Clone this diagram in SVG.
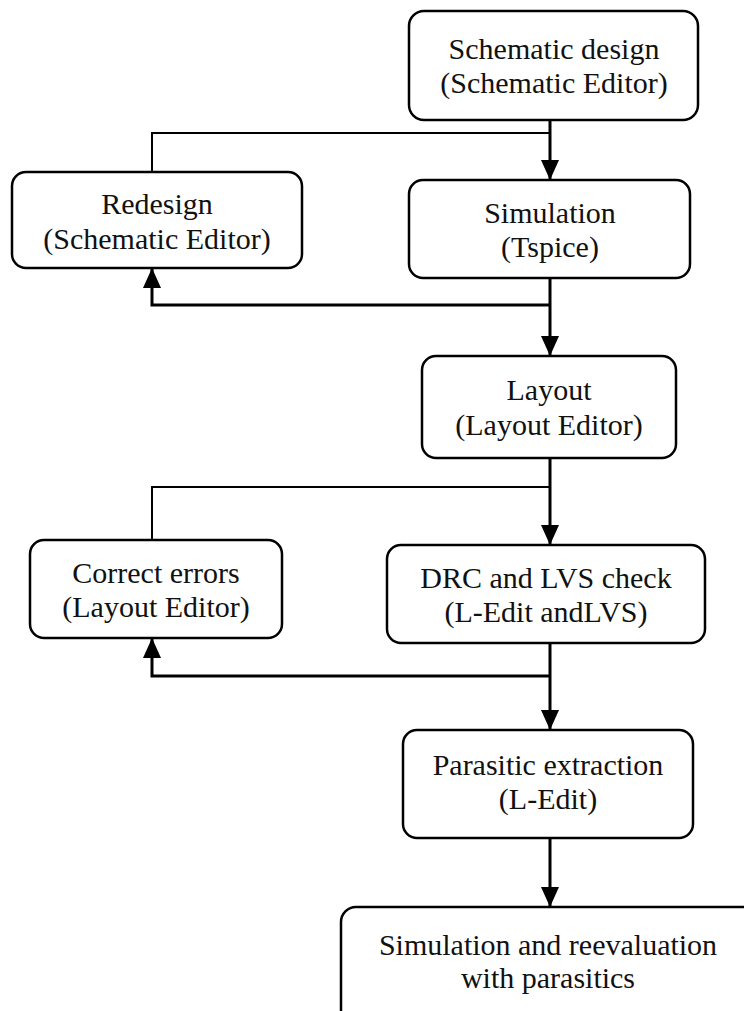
<svg xmlns="http://www.w3.org/2000/svg" width="744" height="1011" viewBox="0 0 744 1011">
<style>
.box{fill:#fff;stroke:#000;stroke-width:2.5}
.t{font-family:"Liberation Serif","Times New Roman",serif;font-size:30px;fill:#111;text-anchor:middle}
.main{fill:none;stroke:#000;stroke-width:3}
.thin{fill:none;stroke:#000;stroke-width:2}
</style>
<defs>
<marker id="ah" viewBox="0 0 20 18" refX="20" refY="9" markerWidth="20" markerHeight="18" markerUnits="userSpaceOnUse" orient="auto">
<path d="M0,0 L20,9 L0,18 Z" fill="#000"/>
</marker>
</defs>
<rect width="744" height="1011" fill="#fff"/>
<g id="connectors">
<path class="main" d="M550,120 V180" marker-end="url(#ah)"/>
<path class="thin" d="M550,133 H152 V172"/>
<path class="main" d="M550,278 V356" marker-end="url(#ah)"/>
<path class="main" d="M550,305 H152 V268" marker-end="url(#ah)"/>
<path class="main" d="M550,458 V545" marker-end="url(#ah)"/>
<path class="thin" d="M550,487 H152 V540"/>
<path class="main" d="M550,643 V730" marker-end="url(#ah)"/>
<path class="main" d="M550,676 H152 V638" marker-end="url(#ah)"/>
<path class="main" d="M550,838 V907" marker-end="url(#ah)"/>
</g>
<g id="n1"><rect class="box" x="409" y="11" width="289" height="109" rx="15"/>
<text class="t" x="554" y="59">Schematic design</text><text class="t" x="554" y="93">(Schematic Editor)</text></g>
<g id="n2"><rect class="box" x="12" y="172" width="290" height="96" rx="14"/>
<text class="t" x="157" y="214">Redesign</text><text class="t" x="157" y="249">(Schematic Editor)</text></g>
<g id="n3"><rect class="box" x="409" y="180" width="281" height="98" rx="14"/>
<text class="t" x="550" y="223">Simulation</text><text class="t" x="550" y="257">(Tspice)</text></g>
<g id="n4"><rect class="box" x="422" y="356" width="254" height="102" rx="14"/>
<text class="t" x="549" y="400">Layout</text><text class="t" x="549" y="435">(Layout Editor)</text></g>
<g id="n5"><rect class="box" x="30" y="540" width="252" height="98" rx="14"/>
<text class="t" x="156" y="583">Correct errors</text><text class="t" x="156" y="617">(Layout Editor)</text></g>
<g id="n6"><rect class="box" x="387" y="545" width="318" height="98" rx="14"/>
<text class="t" x="546" y="588">DRC and LVS check</text><text class="t" x="546" y="622">(L-Edit andLVS)</text></g>
<g id="n7"><rect class="box" x="403" y="730" width="290" height="108" rx="14"/>
<text class="t" x="548" y="775">Parasitic extraction</text><text class="t" x="548" y="809">(L-Edit)</text></g>
<g id="n8"><rect class="box" x="341" y="907" width="440" height="140" rx="15"/>
<text class="t" x="548" y="955">Simulation and reevaluation</text><text class="t" x="548" y="988">with parasitics</text></g>
</svg>
